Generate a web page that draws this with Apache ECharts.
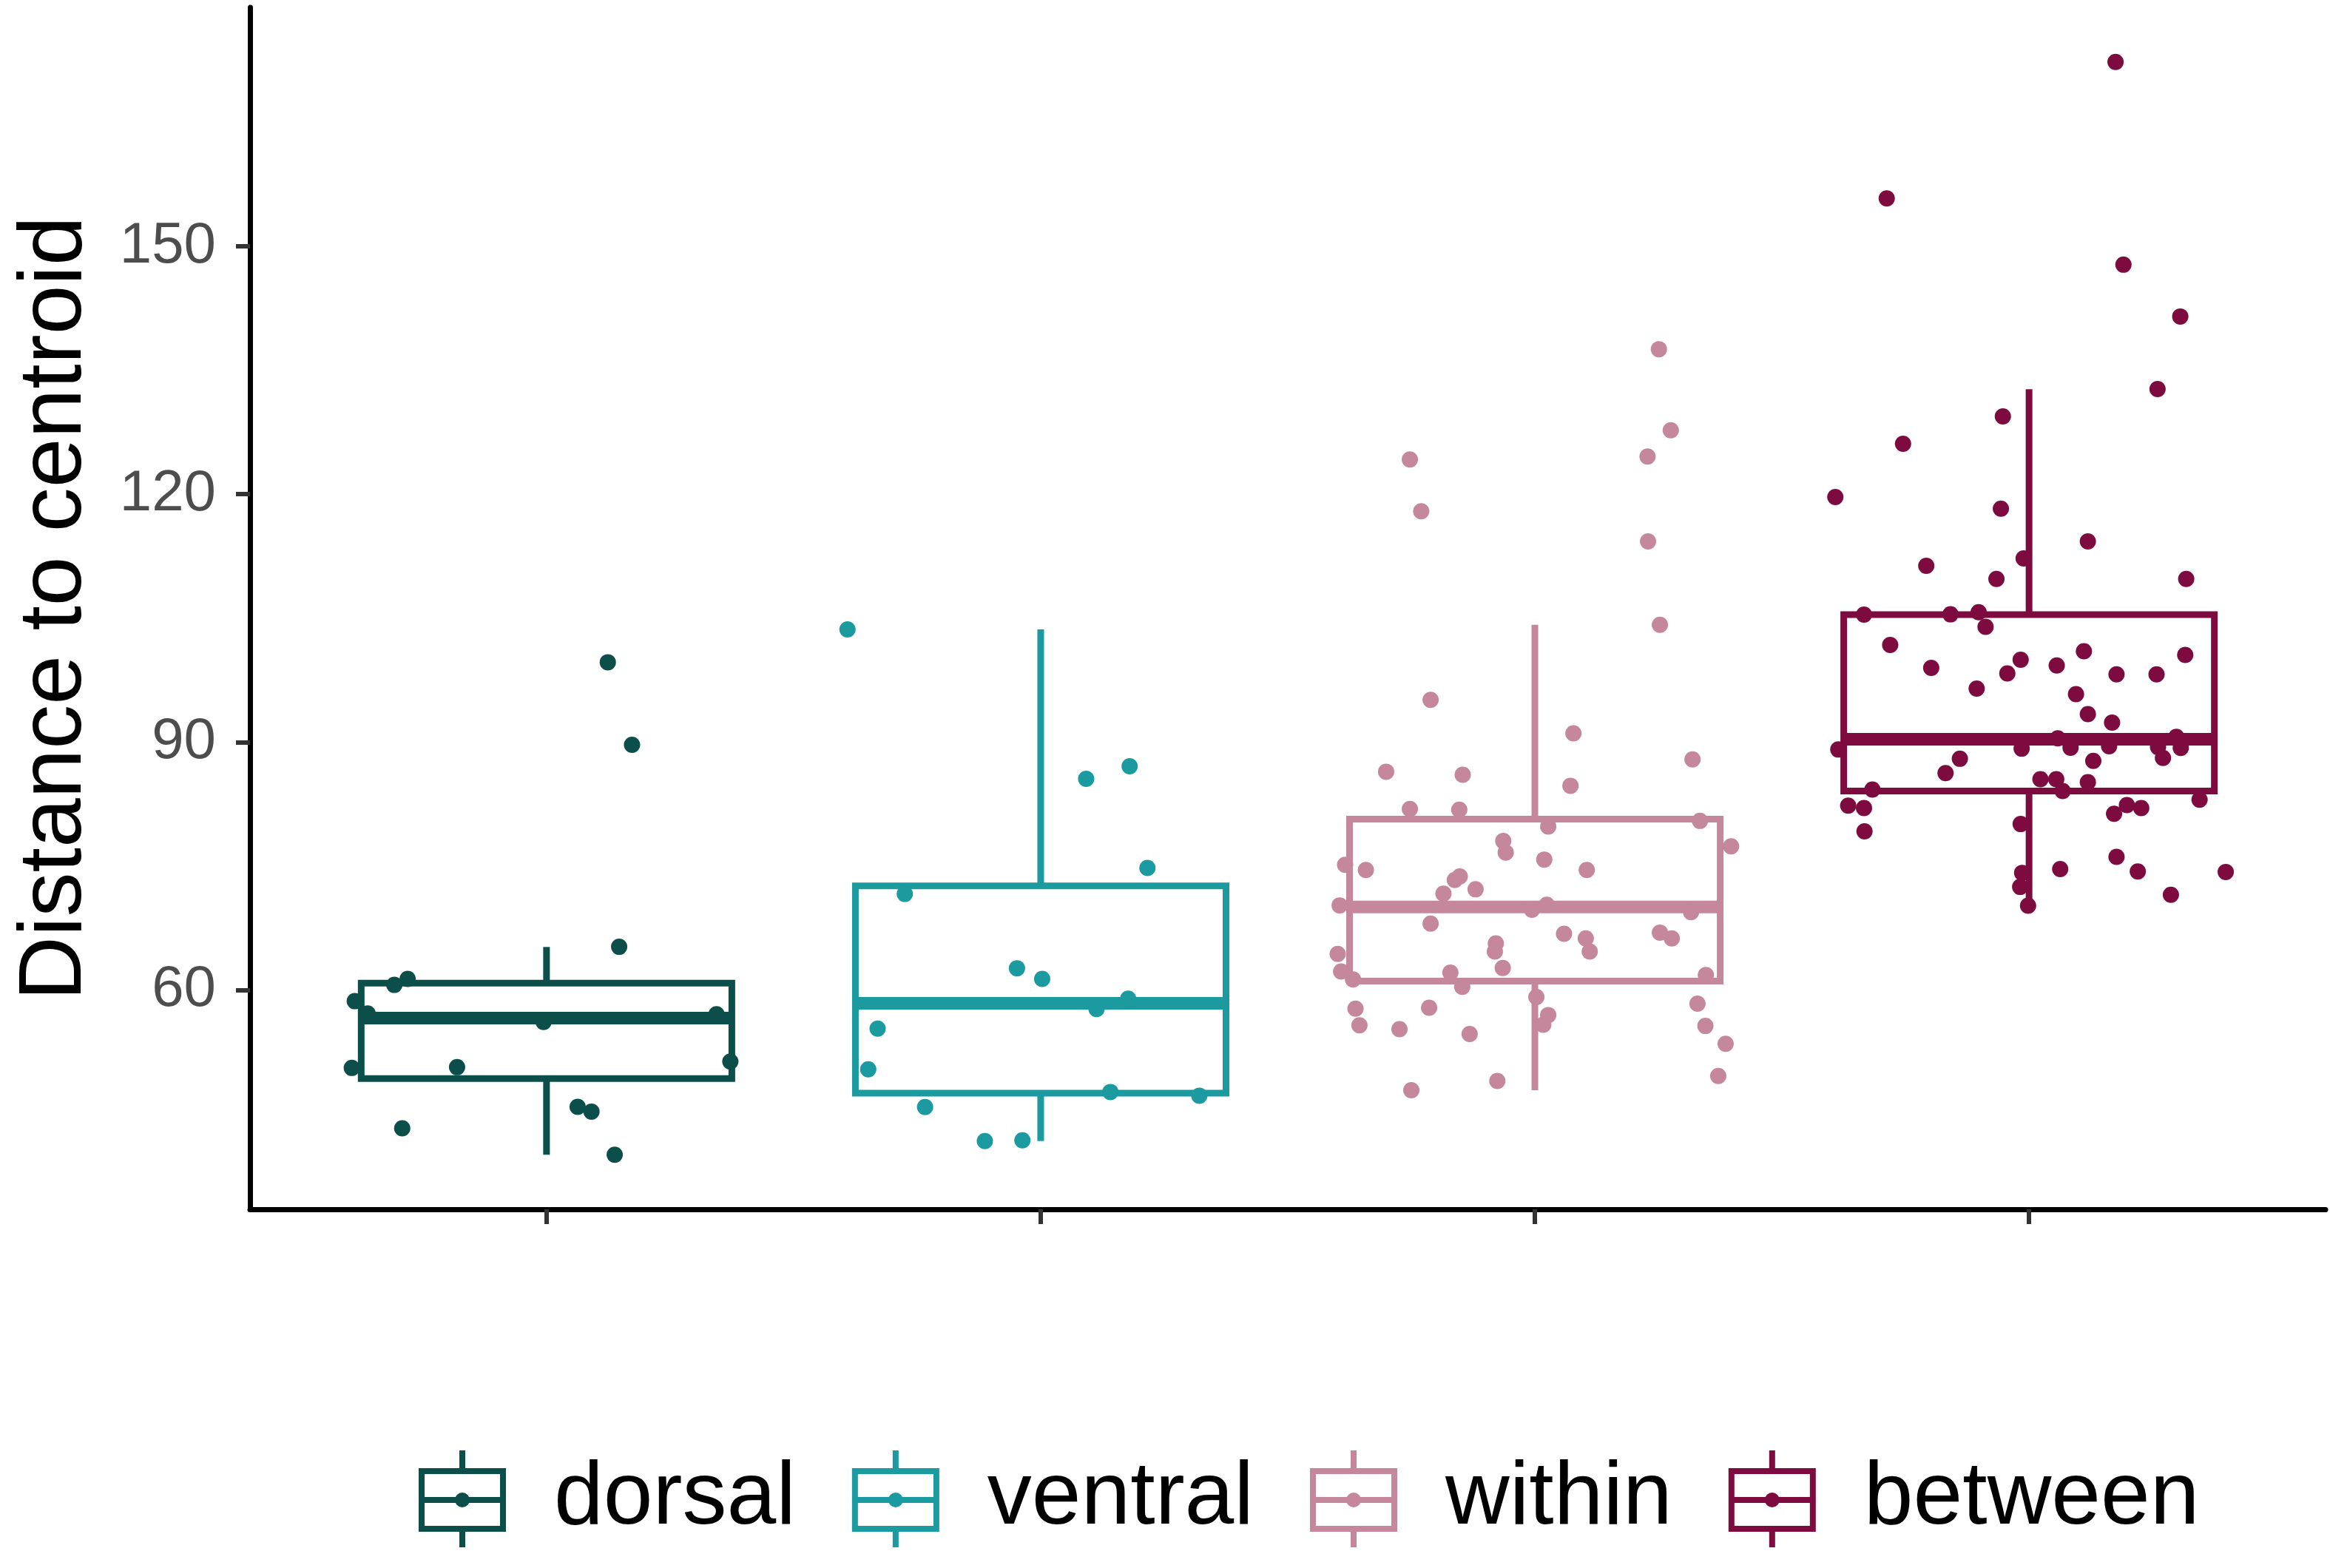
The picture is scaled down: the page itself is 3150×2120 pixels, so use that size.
<!DOCTYPE html>
<html>
<head>
<meta charset="utf-8">
<title>Distance to centroid</title>
<script src="https://cdn.jsdelivr.net/npm/echarts@6/dist/echarts.min.js"></script>
<style>
    html, body { margin: 0; padding: 0; background: #ffffff; }
    #chart { width: 3150px; height: 2120px; }
</style>
</head>
<body>
<div id="chart"></div>
<script>
// 分组与颜色
const groups = ['dorsal', 'ventral', 'within', 'between'];
const groupColors = ['#0c4f4a', '#1b9aa0', '#c4879c', '#7d0b40'];

// 箱线图统计量 (whisker low, Q1, median, Q3, whisker high)
const boxLow = [40.06, 41.71, 47.86, 70.2];
const boxQ1 = [49.27, 47.5, 61.06, 84.08];
const boxMedian = [56.6, 58.38, 70.05, 90.35];
const boxQ3 = [60.83, 72.59, 80.67, 105.43];
const boxHigh = [65.2, 103.64, 104.2, 132.7];

// 坐标轴刻度
const yTicks = [60, 90, 120, 150];
const xTicks = [1, 2, 3, 4];

// 抖动点: 水平偏移 (相对类别中心) 与数值
const dorsalJitter = [0.124, 0.173, 0.147, -0.281, -0.308, -0.388, -0.362, -0.006,
    0.344, 0.372, -0.394, -0.181, 0.063, 0.091, -0.292, 0.138];
const dorsalValues = [99.66, 89.66, 65.22, 61.34, 60.61, 58.64, 57.14, 56.13,
    57.05, 51.34, 50.56, 50.65, 45.85, 45.26, 43.26, 40.06];

const ventralJitter = [-0.391, 0.092, 0.180, 0.216, -0.275, -0.048, 0.003, 0.177,
    0.113, -0.330, -0.349, -0.234, 0.141, 0.321, -0.113, -0.037];
const ventralValues = [103.64, 85.55, 87.07, 74.77, 71.62, 62.62, 61.34, 58.93,
    57.69, 55.32, 50.39, 45.82, 47.65, 47.19, 41.71, 41.8];

const withinJitter = [0.251, 0.275, 0.228, -0.253, -0.230, 0.229, 0.253, -0.211,
    0.078, 0.319, -0.301, -0.146, 0.072, -0.253, -0.153, 0.334, 0.027, -0.064,
    -0.059, 0.397, 0.019, -0.384, -0.342, 0.105, -0.152, -0.162, -0.120, -0.185,
    -0.395, 0.024, -0.006, 0.316, -0.211, 0.059, 0.103, 0.253, 0.277, -0.079,
    -0.081, 0.111, -0.399, -0.065, -0.392, -0.368, -0.171, 0.346, -0.147, 0.003,
    -0.363, -0.214, 0.027, 0.017, 0.329, -0.355, -0.274, -0.132, 0.345, 0.386,
    0.371, -0.076, -0.250];
const withinValues = [137.55, 127.74, 124.56, 124.2, 117.93, 114.29, 104.2, 95.1,
    91.05, 87.9, 86.41, 86.05, 84.71, 81.91, 81.81, 80.46, 79.78, 78.02,
    76.63, 77.38, 75.78, 75.15, 74.51, 74.51, 73.73, 73.31, 72.18, 71.65,
    70.23, 70.3, 69.7, 69.42, 68.03, 66.8, 66.23, 66.94, 66.23, 65.63,
    64.64, 64.64, 64.35, 62.65, 62.23, 61.27, 62.09, 61.8, 60.38, 59.15,
    57.73, 57.84, 56.96, 55.78, 58.33, 55.71, 55.25, 54.66, 55.64, 53.48,
    49.59, 48.99, 47.86];

const betweenJitter = [0.175, -0.288, 0.191, 0.306, 0.260, -0.053, -0.255,
    -0.392, -0.057, 0.119, -0.011, -0.208, -0.066, 0.318, -0.334, -0.159, -0.102,
    -0.088, -0.281, 0.316, -0.017, 0.111, -0.198, 0.056, -0.044, 0.177, 0.258,
    -0.106, 0.095, 0.119, 0.168, -0.386, -0.015, 0.058, 0.084, 0.162, 0.298,
    0.307, 0.261, -0.140, 0.130, 0.271, -0.169, 0.023, 0.055, 0.119, 0.068,
    -0.317, -0.366, -0.334, 0.345, 0.198, 0.227, 0.172, -0.333, -0.017, 0.177,
    0.063, 0.220, 0.398, -0.014, -0.018, 0.287, -0.002];
const betweenValues = [172.31, 155.81, 147.78, 141.51, 132.73, 129.41, 126.11,
    119.66, 118.24, 114.28, 112.22, 111.33, 109.75, 109.75, 105.43, 105.46, 105.71,
    103.94, 101.75, 100.54, 99.97, 101.0, 98.98, 99.27, 98.31, 98.2, 98.2,
    96.47, 95.8, 93.39, 92.36, 89.1, 89.21, 90.45, 89.32, 89.5, 90.63,
    89.28, 89.39, 87.98, 87.73, 88.08, 86.24, 85.5, 85.5, 85.14, 84.08,
    84.26, 82.31, 82.02, 83.02, 82.38, 82.02, 81.32, 79.19, 80.08, 76.11,
    74.63, 74.34, 74.28, 74.17, 72.47, 71.51, 70.2];

const jitters = [dorsalJitter, ventralJitter, withinJitter, betweenJitter];
const values = [dorsalValues, ventralValues, withinValues, betweenValues];

// 图例图标: 箱体 + 须线 + 中位线 + 中心点
const legendIcon = 'path://M0 24H118V32H0Z M0 102H118V110H0Z M0 24H8V110H0Z M110 24H118V110H110Z ' +
    'M0 63H118V71H0Z M55 0H63V24H55Z M55 110H63V131H55Z ' +
    'M49 67A10 10 0 1 1 69 67A10 10 0 1 1 49 67Z';

const fontFamily = '"Liberation Sans", Arial, Helvetica, sans-serif';
const boxWidth = 0.75;

// 绘制箱线图
function renderBox(params, api) {
    const x = api.value(0);
    const color = api.visual('color');
    const pLow = api.coord([x, api.value(1)]);
    const pQ1 = api.coord([x, api.value(2)]);
    const pMed = api.coord([x, api.value(3)]);
    const pQ3 = api.coord([x, api.value(4)]);
    const pHigh = api.coord([x, api.value(5)]);
    const halfW = api.size([boxWidth, 0])[0] / 2;
    const cx = pMed[0];
    const lineStyle = { stroke: color, lineWidth: 9, fill: null };

    return {
        type: 'group',
        children: [
            {
                type: 'line',
                shape: { x1: cx, y1: pHigh[1], x2: cx, y2: pQ3[1] },
                style: lineStyle
            },
            {
                type: 'line',
                shape: { x1: cx, y1: pQ1[1], x2: cx, y2: pLow[1] },
                style: lineStyle
            },
            {
                type: 'rect',
                shape: { x: cx - halfW, y: pQ3[1], width: halfW * 2, height: pQ1[1] - pQ3[1] },
                style: { stroke: color, lineWidth: 9, fill: '#ffffff' }
            },
            {
                type: 'line',
                shape: { x1: cx - halfW, y1: pMed[1], x2: cx + halfW, y2: pMed[1] },
                style: { stroke: color, lineWidth: 17 }
            }
        ]
    };
}

const series = [];

groups.forEach((name, i) => {
    // 箱体
    series.push({
        name: name,
        type: 'custom',
        renderItem: renderBox,
        itemStyle: { color: groupColors[i] },
        encode: { x: 0, y: [1, 2, 3, 4, 5] },
        data: [[xTicks[i], boxLow[i], boxQ1[i], boxMedian[i], boxQ3[i], boxHigh[i]]],
        z: 2,
        silent: true
    });
    // 抖动散点
    series.push({
        name: name,
        type: 'scatter',
        symbol: 'circle',
        symbolSize: 22,
        itemStyle: { color: groupColors[i], opacity: 1 },
        data: values[i].map((v, k) => [xTicks[i] + jitters[i][k], v]),
        z: 3,
        silent: true
    });
});

const chart = echarts.init(document.getElementById('chart'));

const option = {
    animation: false,
    backgroundColor: '#ffffff',
    textStyle: { fontFamily: fontFamily },
    grid: {
        left: 338,
        right: 6,
        top: 10,
        bottom: 485,
        outerBoundsMode: 'none'
    },
    legend: {
        data: groups,
        icon: legendIcon,
        orient: 'horizontal',
        left: 561,
        top: 1956,
        itemWidth: 118,
        itemHeight: 131,
        itemGap: 76,
        selectedMode: false,
        textStyle: {
            fontSize: 120,
            color: '#000000',
            fontFamily: fontFamily,
            padding: [0, 0, 0, 60]
        }
    },
    xAxis: {
        type: 'value',
        min: 0.4,
        max: 4.6,
        axisLine: { show: true, lineStyle: { color: '#000000', width: 7 } },
        axisTick: {
            show: true,
            customValues: xTicks,
            length: 20,
            lineStyle: { color: '#333333', width: 6 }
        },
        axisLabel: { show: false },
        splitLine: { show: false }
    },
    yAxis: {
        type: 'value',
        min: 33.45,
        max: 178.92,
        name: 'Distance to centroid',
        nameLocation: 'middle',
        nameGap: 202,
        nameTextStyle: {
            fontSize: 120,
            color: '#000000',
            fontFamily: fontFamily
        },
        axisLine: { show: true, lineStyle: { color: '#000000', width: 7 } },
        axisTick: {
            show: true,
            customValues: yTicks,
            length: 19,
            lineStyle: { color: '#333333', width: 6 }
        },
        axisLabel: {
            customValues: yTicks,
            fontSize: 78,
            color: '#4d4d4d',
            margin: 46,
            fontFamily: fontFamily
        },
        splitLine: { show: false }
    },
    series: series
};

chart.setOption(option);

window.addEventListener('resize', () => {
    chart.resize();
});
</script>
</body>
</html>
